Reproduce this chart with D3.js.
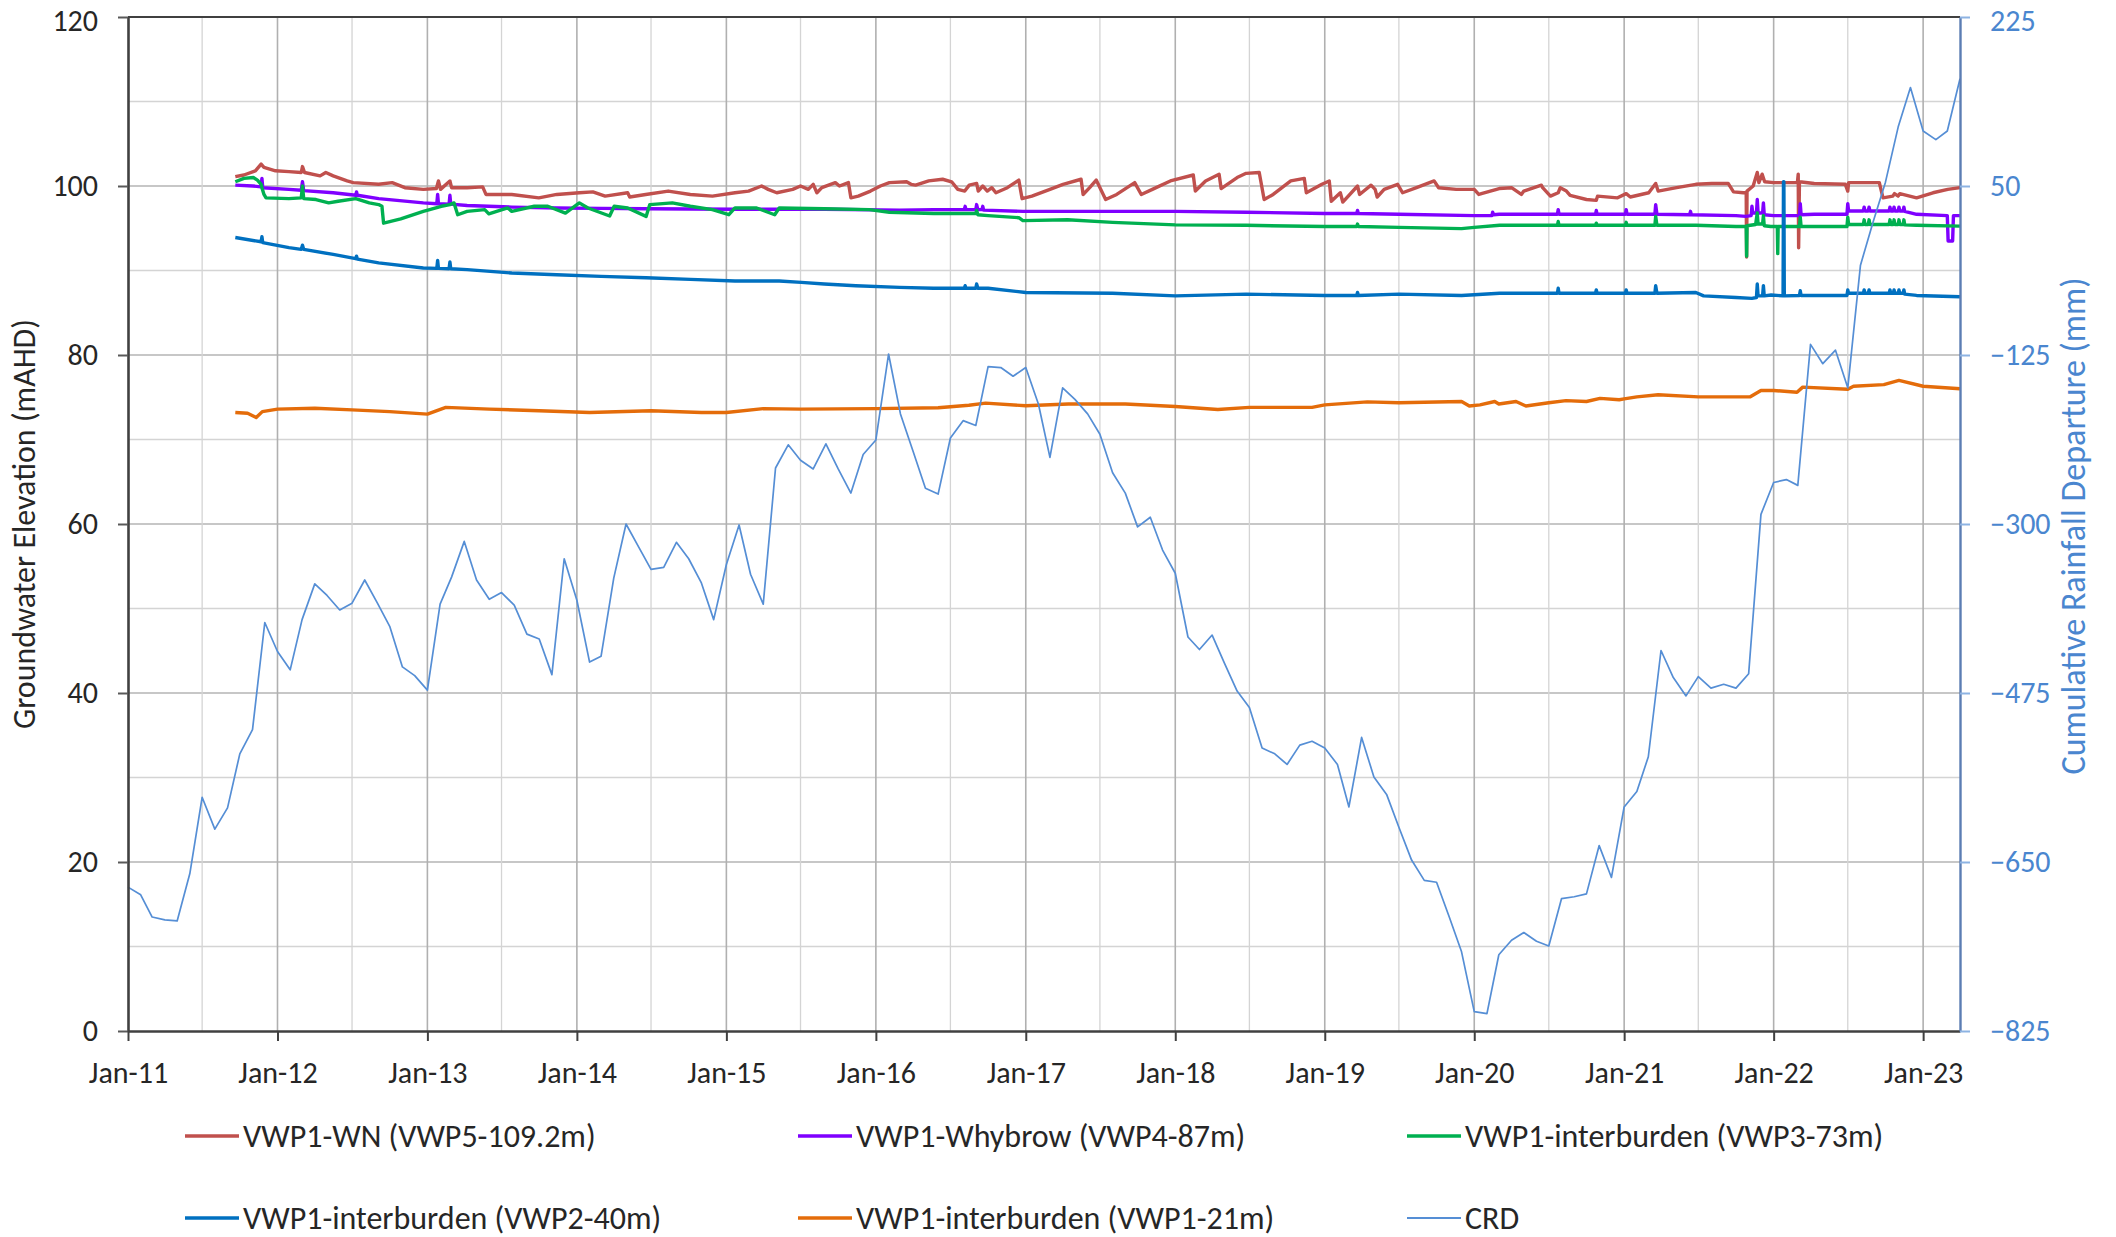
<!DOCTYPE html>
<html>
<head>
<meta charset="utf-8">
<script src="https://cdn.jsdelivr.net/npm/d3@7"></script>
<style>
  html, body { margin: 0; padding: 0; background: #ffffff; }
  svg { display: block; font-family: Carlito, Calibri, Lato, sans-serif; }
</style>
</head>
<body>
<svg id="chart" width="2116" height="1237"></svg>
<script>
// ---- Axis definitions ----
const xDomain = ["2011-01-01", "2023-04-01"];
const xTickDates = ["2011-01-01","2012-01-01","2013-01-01","2014-01-01","2015-01-01","2016-01-01",
  "2017-01-01","2018-01-01","2019-01-01","2020-01-01","2021-01-01","2022-01-01","2023-01-01"];
const leftTicks = [0, 20, 40, 60, 80, 100, 120];
const rightTicks = [-825, -650, -475, -300, -125, 50, 225];

// ---- Cumulative Rainfall Departure (mm), monthly from Jan 2011 ----
const crdStart = "2011-01-01";
const crdValues = [
  -676, -684, -707, -710, -711, -662, -583, -616, -594, -538, -513, -402, // 2011
  -432, -451, -399, -362, -374, -389, -382, -358, -382, -406, -448, -457, // 2012
  -472, -383, -355, -318, -358, -378, -371, -384, -414, -419, -456, -336, // 2013
  -379, -443, -437, -356, -300, -324, -347, -345, -319, -336, -361, -399, // 2014
  -342, -301, -352, -383, -242, -218, -234, -243, -217, -243, -268, -228, // 2015
  -213, -124, -186, -225, -263, -269, -211, -193, -198, -137, -138, -147, // 2016
  -138, -176, -231, -159, -171, -186, -207, -247, -268, -303, -293, -327, // 2017
  -351, -417, -430, -415, -444, -473, -490, -532, -538, -549, -529, -525, // 2018
  -532, -549, -593, -521, -562, -580, -614, -648, -669, -671, -707, -743, // 2019
  -805, -807, -746, -731, -723, -732, -737, -688, -686, -683, -633, -666, // 2020
  -593, -577, -541, -431, -459, -478, -458, -470, -466, -470, -455, -290, // 2021
  -257, -254, -260, -114, -134, -120, -159,  -32,   13,   54,  111,  152, // 2022
   107,   98,  107,  161                                                  // 2023
];

// ---- Groundwater elevations (mAHD) ----
const vwp5 = [ // VWP1-WN (VWP5-109.2m)
  ["2011-09-20",101.1],["2011-10-11",101.3],["2011-11-08",101.8],["2011-11-22",102.6],["2011-11-29",102.2],["2011-12-27",101.8],
  ["2012-01-29",101.7],["2012-02-28",101.6],["2012-03-02",102.3],["2012-03-07",101.6],["2012-04-14",101.2],["2012-04-28",101.6],
  ["2012-05-16",101.2],["2012-06-19",100.6],["2012-07-04",100.4],["2012-09-04",100.2],["2012-10-07",100.4],["2012-11-07",99.8],["2012-12-22",99.6],
  ["2013-01-23",99.7],["2013-01-28",100.6],["2013-02-02",99.6],["2013-02-25",100.6],["2013-03-01",99.8],["2013-04-08",99.8],["2013-05-16",99.9],
  ["2013-05-24",99.0],["2013-07-26",99.0],["2013-09-30",98.6],["2013-11-13",99.0],
  ["2014-01-07",99.2],["2014-02-09",99.3],["2014-03-11",98.8],["2014-05-05",99.2],["2014-05-10",98.7],["2014-06-18",99.0],["2014-08-12",99.4],
  ["2014-10-05",99.0],["2014-11-28",98.8],
  ["2015-01-22",99.2],["2015-02-24",99.4],["2015-03-28",100.0],["2015-04-13",99.6],["2015-05-04",99.2],["2015-06-12",99.6],["2015-07-01",100.0],
  ["2015-07-20",99.6],["2015-08-01",100.2],["2015-08-10",99.2],["2015-08-22",99.8],["2015-09-24",100.4],["2015-10-04",100.0],["2015-10-15",100.2],
  ["2015-10-26",100.4],["2015-11-01",98.6],["2015-11-19",98.8],["2015-12-19",99.4],
  ["2016-01-12",100.0],["2016-02-03",100.4],["2016-03-16",100.5],["2016-03-27",100.2],["2016-04-07",100.1],["2016-05-09",100.6],["2016-06-12",100.8],
  ["2016-07-04",100.5],["2016-07-19",99.6],["2016-08-05",99.4],["2016-08-16",100.1],["2016-09-03",100.3],["2016-09-07",99.4],["2016-09-18",100.0],
  ["2016-09-29",99.4],["2016-10-10",99.8],["2016-10-20",99.2],["2016-11-17",99.8],["2016-12-15",100.7],["2016-12-23",98.5],
  ["2017-01-16",98.8],["2017-03-01",99.6],["2017-04-02",100.2],["2017-05-16",100.8],["2017-05-21",99.0],["2017-06-06",99.8],["2017-06-22",100.7],
  ["2017-07-15",98.4],["2017-08-11",99.0],["2017-09-24",100.4],["2017-10-10",99.0],["2017-11-06",99.6],["2017-12-20",100.6],
  ["2018-02-14",101.3],["2018-02-19",99.4],["2018-03-16",100.6],["2018-04-18",101.4],["2018-04-23",99.7],["2018-06-01",101.0],["2018-06-23",101.5],
  ["2018-07-25",101.6],["2018-08-06",98.4],["2018-08-28",99.0],["2018-10-10",100.6],["2018-11-12",100.9],["2018-11-17",99.2],["2018-12-25",100.2],
  ["2019-01-12",100.6],["2019-01-17",98.2],["2019-02-08",99.2],["2019-02-14",98.1],["2019-03-22",100.0],["2019-03-27",99.0],["2019-04-24",100.1],
  ["2019-05-04",99.6],["2019-05-09",98.7],["2019-05-26",99.6],["2019-06-28",100.2],["2019-07-10",99.2],["2019-08-13",99.8],["2019-09-25",100.6],
  ["2019-10-06",99.8],["2019-11-18",99.6],
  ["2020-01-01",99.6],["2020-01-12",99.0],["2020-03-02",99.7],["2020-04-01",99.8],["2020-04-25",99.0],["2020-05-01",99.4],["2020-06-13",100.1],
  ["2020-06-16",99.8],["2020-07-05",98.8],["2020-07-24",99.2],["2020-07-29",99.8],["2020-08-13",99.4],["2020-08-22",98.9],["2020-10-01",98.4],
  ["2020-10-25",98.3],["2020-10-28",98.8],["2020-12-16",98.6],
  ["2021-01-06",99.1],["2021-01-16",98.7],["2021-03-02",99.2],["2021-03-19",100.3],["2021-03-25",99.4],["2021-05-09",99.8],["2021-06-25",100.2],
  ["2021-08-03",100.3],["2021-09-12",100.3],["2021-09-25",99.3],["2021-10-19",99.2],["2021-10-26",99.2],["2021-10-27",91.6],["2021-10-28",99.4],
  ["2021-11-12",100.0],["2021-11-22",101.6],["2021-11-26",100.4],["2021-12-04",101.4],["2021-12-10",100.5],
  ["2022-01-01",100.4],["2022-02-28",100.4],["2022-03-02",101.4],["2022-03-03",92.7],["2022-03-05",100.5],["2022-04-10",100.3],["2022-06-25",100.2],
  ["2022-07-01",99.4],["2022-07-03",100.4],["2022-08-04",100.4],["2022-09-16",100.4],["2022-09-25",98.6],["2022-10-19",98.8],["2022-10-23",99.1],
  ["2022-11-01",98.8],["2022-11-05",99.1],["2022-12-16",98.6],
  ["2023-01-25",99.2],["2023-03-02",99.6],["2023-04-01",99.8]
];

const vwp4 = [ // VWP1-Whybrow (VWP4-87m)
  ["2011-09-20",100.1],["2011-11-02",100.0],["2011-11-22",99.9],["2011-11-24",100.9],["2011-11-26",99.8],["2012-01-29",99.6],["2012-02-28",99.5],
  ["2012-03-02",100.5],["2012-03-05",99.45],["2012-05-16",99.2],["2012-07-10",98.9],["2012-07-12",99.3],["2012-07-14",98.9],["2012-09-04",98.5],
  ["2012-12-22",98.0],["2013-01-24",97.9],["2013-01-26",99.0],["2013-01-28",97.9],["2013-02-23",97.85],["2013-02-25",98.9],["2013-02-27",97.85],
  ["2013-04-08",97.7],["2013-07-26",97.5],["2013-11-13",97.4],["2014-03-01",97.35],["2014-06-19",97.3],["2015-01-22",97.25],["2015-08-28",97.25],
  ["2016-02-28",97.15],["2016-05-21",97.2],["2016-08-04",97.2],["2016-08-06",97.6],["2016-08-08",97.2],["2016-09-01",97.2],["2016-09-03",97.8],
  ["2016-09-06",97.2],["2016-09-16",97.2],["2016-09-18",97.6],["2016-09-20",97.15],["2016-12-25",97.0],["2017-08-01",97.0],["2018-01-01",97.0],
  ["2018-06-23",96.9],["2019-01-01",96.75],["2019-03-20",96.75],["2019-03-22",97.1],["2019-03-24",96.75],["2019-07-01",96.65],["2020-01-01",96.5],
  ["2020-02-13",96.5],["2020-02-15",96.9],["2020-02-17",96.6],["2020-03-02",96.65],
  ["2020-07-22",96.65],["2020-07-24",97.2],["2020-07-26",96.65],["2020-10-23",96.65],["2020-10-25",97.1],["2020-10-27",96.65],
  ["2021-01-04",96.65],["2021-01-06",97.2],["2021-01-08",96.65],["2021-03-17",96.65],["2021-03-19",97.8],["2021-03-22",96.65],
  ["2021-06-10",96.6],["2021-06-12",97.0],["2021-06-14",96.6],["2021-10-01",96.5],["2021-10-25",96.4],["2021-11-07",96.5],["2021-11-09",97.6],
  ["2021-11-11",96.8],["2021-11-20",96.8],["2021-11-22",98.4],["2021-11-24",96.8],["2021-12-05",96.8],["2021-12-07",98.0],["2021-12-09",96.6],
  ["2022-01-01",96.5],["2022-03-05",96.5],["2022-03-07",97.9],["2022-03-09",96.6],["2022-04-10",96.65],["2022-06-29",96.65],["2022-07-01",97.9],
  ["2022-07-03",97.05],["2022-08-08",97.05],["2022-08-10",97.5],["2022-08-12",97.05],["2022-08-20",97.05],["2022-08-22",97.5],["2022-08-24",97.05],
  ["2022-10-10",97.05],["2022-10-12",97.5],["2022-10-14",97.05],["2022-10-20",97.05],["2022-10-22",97.5],["2022-10-24",97.05],
  ["2022-11-01",97.05],["2022-11-03",97.5],["2022-11-05",97.05],["2022-11-13",97.05],["2022-11-15",97.5],["2022-11-17",97.0],
  ["2022-12-16",96.65],["2023-03-01",96.5],["2023-03-03",93.5],["2023-03-14",93.5],["2023-03-16",96.5],["2023-04-01",96.5]
];

const vwp3 = [ // VWP1-interburden (VWP3-73m)
  ["2011-09-20",100.5],["2011-10-11",100.9],["2011-11-03",101.0],["2011-11-13",100.7],["2011-11-22",100.2],["2011-11-24",99.8],["2011-11-29",99.0],
  ["2011-12-04",98.6],["2012-01-29",98.5],["2012-02-28",98.6],["2012-03-02",100.0],["2012-03-05",98.5],["2012-04-04",98.4],["2012-05-05",98.0],
  ["2012-05-28",98.2],["2012-07-10",98.5],["2012-08-12",98.0],["2012-09-04",97.8],["2012-09-12",97.6],["2012-09-16",95.6],["2012-10-28",96.1],
  ["2012-12-22",97.0],["2013-02-04",97.6],["2013-02-25",97.8],["2013-03-07",98.0],["2013-03-16",96.6],["2013-04-08",97.0],["2013-05-21",97.2],
  ["2013-05-31",96.7],["2013-07-16",97.4],["2013-07-26",97.0],["2013-09-19",97.6],["2013-10-22",97.6],["2013-12-04",96.8],["2014-01-07",98.0],
  ["2014-01-28",97.4],["2014-03-22",96.45],["2014-04-02",97.6],["2014-05-05",97.4],["2014-06-19",96.4],["2014-06-28",97.8],["2014-08-22",98.0],
  ["2014-10-05",97.6],["2014-11-28",97.2],["2015-01-07",96.6],["2015-01-22",97.4],["2015-03-16",97.4],["2015-04-29",96.6],["2015-05-10",97.4],
  ["2015-08-28",97.3],["2015-12-16",97.2],["2016-02-03",96.9],["2016-05-21",96.75],["2016-09-01",96.75],["2016-09-03",97.1],["2016-09-06",96.6],
  ["2016-10-01",96.5],["2016-12-15",96.25],["2016-12-25",95.9],["2017-04-13",96.0],["2017-08-01",95.7],["2018-01-01",95.4],["2018-06-23",95.35],
  ["2019-01-01",95.2],["2019-03-20",95.2],["2019-03-22",95.5],["2019-03-24",95.2],["2019-07-01",95.1],["2019-12-01",94.95],["2020-01-01",95.1],
  ["2020-03-03",95.35],["2020-06-07",95.35],["2020-07-22",95.35],["2020-07-24",95.8],["2020-07-26",95.35],["2020-10-23",95.35],["2020-10-25",95.6],
  ["2020-10-27",95.35],["2021-01-04",95.35],["2021-01-06",95.7],["2021-01-08",95.35],["2021-03-17",95.35],["2021-03-19",96.4],["2021-03-22",95.35],
  ["2021-06-25",95.35],["2021-10-01",95.2],["2021-10-26",95.2],["2021-10-27",91.7],["2021-10-28",95.3],["2021-11-18",95.45],["2021-11-22",96.8],
  ["2021-11-24",95.5],["2021-12-05",95.5],["2021-12-07",96.5],["2021-12-09",95.3],["2021-12-25",95.2],["2022-01-10",95.2],["2022-01-11",92.0],
  ["2022-01-12",95.2],["2022-03-05",95.2],["2022-03-07",96.3],["2022-03-09",95.2],["2022-04-10",95.2],["2022-06-29",95.2],["2022-07-01",96.3],
  ["2022-07-03",95.45],["2022-08-08",95.45],["2022-08-10",96.0],["2022-08-12",95.45],["2022-08-20",95.45],["2022-08-22",96.0],["2022-08-24",95.45],
  ["2022-10-10",95.45],["2022-10-12",96.0],["2022-10-14",95.45],["2022-10-20",95.45],["2022-10-22",96.0],["2022-10-24",95.45],
  ["2022-11-01",95.45],["2022-11-03",96.0],["2022-11-05",95.45],["2022-11-13",95.45],["2022-11-15",96.0],["2022-11-17",95.4],
  ["2022-12-16",95.35],["2023-04-01",95.25]
];

const vwp2 = [ // VWP1-interburden (VWP2-40m)
  ["2011-09-20",93.9],["2011-11-22",93.4],["2011-11-24",94.0],["2011-11-26",93.3],["2012-01-29",92.7],["2012-02-28",92.5],["2012-03-02",93.0],
  ["2012-03-05",92.5],["2012-05-16",91.9],["2012-07-10",91.4],["2012-07-12",91.7],["2012-07-14",91.35],["2012-09-04",90.9],["2012-12-22",90.3],
  ["2013-01-24",90.25],["2013-01-26",91.2],["2013-01-28",90.25],["2013-02-23",90.2],["2013-02-25",91.0],["2013-02-27",90.2],["2013-04-08",90.1],
  ["2013-07-26",89.7],["2013-11-13",89.5],["2014-03-01",89.3],["2014-06-19",89.15],["2014-10-05",88.95],["2015-01-22",88.75],["2015-05-10",88.75],
  ["2015-07-03",88.6],["2015-08-28",88.4],["2015-11-13",88.2],["2016-02-28",88.0],["2016-05-21",87.9],["2016-08-04",87.9],["2016-08-06",88.2],
  ["2016-08-08",87.9],["2016-09-01",87.9],["2016-09-03",88.4],["2016-09-06",87.9],["2016-10-01",87.9],["2017-01-01",87.4],["2017-08-01",87.3],
  ["2018-01-01",87.0],["2018-06-23",87.2],["2019-01-01",87.05],["2019-03-20",87.05],["2019-03-22",87.4],["2019-03-24",87.05],["2019-07-01",87.2],
  ["2019-12-01",87.05],["2020-03-03",87.3],["2020-07-22",87.3],["2020-07-24",87.9],["2020-07-26",87.3],["2020-10-23",87.3],["2020-10-25",87.7],
  ["2020-10-27",87.3],["2021-01-04",87.3],["2021-01-06",87.7],["2021-01-08",87.3],["2021-03-17",87.3],["2021-03-19",88.2],["2021-03-22",87.3],
  ["2021-06-25",87.4],["2021-07-14",87.0],["2021-10-01",86.8],["2021-11-09",86.7],["2021-11-20",86.8],["2021-11-22",88.4],["2021-11-24",87.0],
  ["2021-12-05",87.0],["2021-12-07",88.2],["2021-12-09",87.0],["2021-12-26",87.1],["2022-01-24",87.0],["2022-01-25",100.5],["2022-01-26",100.5],
  ["2022-01-27",87.0],["2022-03-05",87.05],["2022-03-07",87.6],["2022-03-09",87.05],["2022-04-10",87.05],["2022-06-29",87.05],["2022-07-01",87.7],
  ["2022-07-03",87.3],["2022-08-08",87.3],["2022-08-10",87.7],["2022-08-12",87.3],["2022-08-20",87.3],["2022-08-22",87.7],["2022-08-24",87.3],
  ["2022-10-10",87.3],["2022-10-12",87.7],["2022-10-14",87.3],["2022-10-20",87.3],["2022-10-22",87.7],["2022-10-24",87.3],
  ["2022-11-01",87.3],["2022-11-03",87.7],["2022-11-05",87.3],["2022-11-13",87.3],["2022-11-15",87.7],["2022-11-17",87.2],
  ["2022-12-16",87.05],["2023-04-01",86.9]
];

const vwp1 = [ // VWP1-interburden (VWP1-21m)
  ["2011-09-20",73.2],["2011-10-20",73.1],["2011-11-10",72.6],["2011-11-25",73.3],["2012-01-01",73.6],["2012-04-01",73.7],["2012-07-01",73.5],
  ["2012-10-01",73.3],["2013-01-01",73.0],["2013-02-15",73.8],["2013-06-01",73.6],["2013-10-01",73.4],["2014-02-01",73.2],["2014-07-01",73.4],
  ["2014-11-01",73.2],["2015-01-01",73.2],["2015-04-01",73.65],["2015-07-01",73.6],["2016-01-01",73.65],["2016-06-01",73.75],["2016-08-15",74.05],
  ["2016-09-25",74.3],["2017-01-01",74.0],["2017-04-15",74.2],["2017-09-01",74.2],["2018-01-01",73.9],["2018-04-15",73.55],["2018-07-01",73.8],
  ["2018-12-01",73.8],["2019-01-01",74.1],["2019-04-15",74.45],["2019-07-01",74.35],["2019-12-01",74.5],["2019-12-20",73.97],["2020-01-15",74.1],
  ["2020-02-20",74.5],["2020-03-01",74.2],["2020-04-12",74.5],["2020-05-06",73.97],["2020-07-01",74.35],["2020-08-12",74.6],["2020-10-01",74.5],
  ["2020-11-03",74.87],["2020-12-20",74.7],["2021-01-01",74.8],["2021-02-01",75.05],["2021-03-25",75.3],["2021-07-01",75.05],["2021-11-05",75.05],
  ["2021-12-01",75.8],["2022-01-01",75.8],["2022-02-27",75.6],["2022-03-13",76.2],["2022-07-01",75.95],["2022-07-15",76.3],["2022-09-27",76.5],
  ["2022-11-03",77.0],["2023-01-01",76.3],["2023-04-01",76.0]
];

// ---- Series metadata (legend order) ----
const seriesNames = [
  "VWP1-WN (VWP5-109.2m)", "VWP1-Whybrow (VWP4-87m)", "VWP1-interburden (VWP3-73m)",
  "VWP1-interburden (VWP2-40m)", "VWP1-interburden (VWP1-21m)", "CRD"
];
const seriesColors = ["#C0504D", "#7F00FF", "#00B050", "#0070C0", "#E46C0A", "#558ED5"];

// ---- Drawing ----
const parse = d3.timeParse("%Y-%m-%d");
const plot = { left: 128, right: 1960, top: 17, bottom: 1031 };
const svg = d3.select("#chart");
const TICK_FONT = 30;
const LEGEND_FONT = 32;
const axisBlue = "#4A86CF";
const fontStack = "Carlito, Calibri, Lato, sans-serif";

const x = d3.scaleTime().domain(xDomain.map(parse)).range([plot.left, plot.right]);
const yL = d3.scaleLinear().domain([0, 120]).range([plot.bottom, plot.top]);
const yR = d3.scaleLinear().domain([-825, 225]).range([plot.bottom, plot.top]);

svg.append("rect").attr("width", 2116).attr("height", 1237).attr("fill", "#ffffff");

// Gridlines
const grid = svg.append("g");
const minorY = d3.range(10, 120, 20);
const majorY = [20, 40, 60, 80, 100];
grid.selectAll(".hminor").data(minorY).join("line")
  .attr("x1", plot.left).attr("x2", plot.right)
  .attr("y1", d => yL(d)).attr("y2", d => yL(d))
  .attr("stroke", "#d4d4d4").attr("stroke-width", 1.3);
grid.selectAll(".hmajor").data(majorY).join("line")
  .attr("x1", plot.left).attr("x2", plot.right)
  .attr("y1", d => yL(d)).attr("y2", d => yL(d))
  .attr("stroke", "#b4b4b4").attr("stroke-width", 1.6);

const julDates = d3.range(2011, 2023).map(yr => new Date(yr, 6, 1));
const janDates = xTickDates.map(parse).slice(1);
grid.selectAll(".vminor").data(julDates).join("line")
  .attr("x1", d => x(d)).attr("x2", d => x(d))
  .attr("y1", plot.top).attr("y2", plot.bottom)
  .attr("stroke", "#d4d4d4").attr("stroke-width", 1.3);
grid.selectAll(".vmajor").data(janDates).join("line")
  .attr("x1", d => x(d)).attr("x2", d => x(d))
  .attr("y1", plot.top).attr("y2", plot.bottom)
  .attr("stroke", "#b0b0b0").attr("stroke-width", 1.6);

// Top border
svg.append("line").attr("x1", plot.left).attr("x2", plot.right)
  .attr("y1", plot.top).attr("y2", plot.top)
  .attr("stroke", "#404040").attr("stroke-width", 2);

// Groundwater lines
const lineL = d3.line().x(d => x(parse(d[0]))).y(d => yL(d[1]));
const gwSeries = [vwp5, vwp4, vwp3, vwp2, vwp1];
const lines = svg.append("g");
gwSeries.forEach((s, i) => {
  lines.append("path").datum(s)
    .attr("d", lineL)
    .attr("fill", "none")
    .attr("stroke", seriesColors[i])
    .attr("stroke-width", 3.4)
    .attr("stroke-linejoin", "round");
});

// CRD line (secondary axis)
const crd0 = parse(crdStart);
const crdData = crdValues.map((v, i) => [d3.timeMonth.offset(crd0, i), v]);
svg.append("path").datum(crdData)
  .attr("d", d3.line().x(d => x(d[0])).y(d => yR(d[1])))
  .attr("fill", "none").attr("stroke", seriesColors[5])
  .attr("stroke-width", 1.7).attr("stroke-linejoin", "round");

// Left axis
const gL = svg.append("g").attr("transform", `translate(${plot.left},0)`)
  .call(d3.axisLeft(yL).tickValues(leftTicks).tickSize(10).tickSizeOuter(0).tickPadding(20));
gL.select(".domain").attr("stroke", "#404040").attr("stroke-width", 2.6);
gL.selectAll(".tick line").attr("stroke", "#595959").attr("stroke-width", 2);
gL.selectAll(".tick text").attr("font-size", TICK_FONT).attr("fill", "#262626")
  .attr("font-family", fontStack);

// Bottom axis
const gB = svg.append("g").attr("transform", `translate(0,${plot.bottom})`)
  .call(d3.axisBottom(x).tickValues(xTickDates.map(parse)).tickFormat(d3.timeFormat("%b-%y"))
    .tickSize(10).tickSizeOuter(0).tickPadding(21));
gB.select(".domain").attr("stroke", "#404040").attr("stroke-width", 2.6);
gB.selectAll(".tick line").attr("stroke", "#404040").attr("stroke-width", 2);
gB.selectAll(".tick text").attr("font-size", TICK_FONT).attr("fill", "#262626")
  .attr("font-family", fontStack);

// Right axis
const gR = svg.append("g").attr("transform", `translate(${plot.right},0)`)
  .call(d3.axisRight(yR).tickValues(rightTicks).tickSize(10).tickSizeOuter(0).tickPadding(20));
gR.select(".domain").attr("stroke", "#5B7DB3").attr("stroke-width", 2.4);
gR.selectAll(".tick line").attr("stroke", "#8DB3E2").attr("stroke-width", 2);
gR.selectAll(".tick text").attr("font-size", TICK_FONT).attr("fill", axisBlue)
  .attr("font-family", fontStack);

// Keep the topmost tick labels inside the canvas
gL.selectAll(".tick text").filter(d => d === 120).attr("y", 4);
gR.selectAll(".tick text").filter(d => d === 225).attr("y", 4);

// Axis titles
svg.append("text")
  .attr("transform", `translate(24,${(plot.top + plot.bottom) / 2}) rotate(-90)`)
  .attr("text-anchor", "middle").attr("dominant-baseline", "central")
  .attr("font-size", 32).attr("fill", "#262626")
  .text("Groundwater Elevation (mAHD)");
svg.append("text")
  .attr("transform", `translate(2073,${(plot.top + plot.bottom) / 2 + 2}) rotate(-90)`)
  .attr("text-anchor", "middle").attr("dominant-baseline", "central")
  .attr("font-size", 34).attr("fill", axisBlue)
  .text("Cumulative Rainfall Departure (mm)");

// Legend
const legendCols = [185, 798, 1407];
const legendRows = [1136, 1218];
const legend = svg.append("g");
seriesNames.forEach((name, i) => {
  const cx = legendCols[i % 3], cy = legendRows[Math.floor(i / 3)];
  legend.append("line")
    .attr("x1", cx).attr("x2", cx + 54).attr("y1", cy).attr("y2", cy)
    .attr("stroke", seriesColors[i]).attr("stroke-width", i === 5 ? 1.8 : 3.6);
  legend.append("text")
    .attr("x", cx + 58).attr("y", cy)
    .attr("dominant-baseline", "central")
    .attr("font-size", LEGEND_FONT).attr("fill", "#262626")
    .text(name);
});
</script>
</body>
</html>
